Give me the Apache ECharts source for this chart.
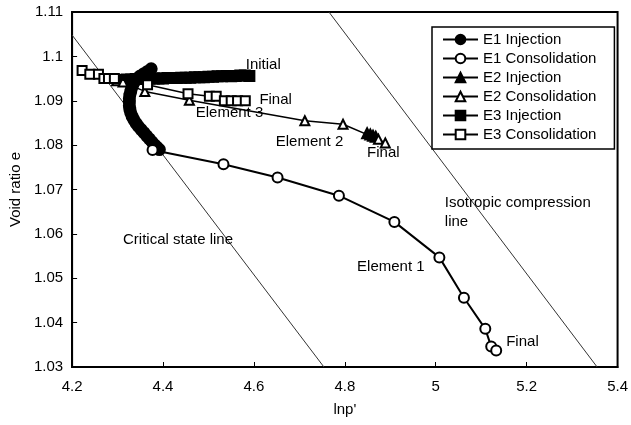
<!DOCTYPE html>
<html><head><meta charset="utf-8">
<script src="https://cdn.jsdelivr.net/npm/echarts@6/dist/echarts.min.js"></script>
<style>html,body{margin:0;padding:0;background:#fff}#c{width:631px;height:425px}</style>
</head><body><div id="c"></div>
<script>
// ---- data ----
const xTickLabels = ['4.2','4.4','4.6','4.8','5','5.2','5.4'];
const yTickLabels = ['1.03','1.04','1.05','1.06','1.07','1.08','1.09','1.1','1.11'];

const e1Injection = [
  [4.374,1.0972],[4.366,1.0966],[4.358,1.0961],[4.350,1.0956],[4.343,1.0950],[4.338,1.0944],
  [4.334,1.0937],[4.331,1.0929],[4.329,1.0921],[4.327,1.0913],[4.326,1.0905],[4.326,1.0897],
  [4.326,1.0889],[4.327,1.0881],[4.329,1.0873],[4.332,1.0865],[4.336,1.0857],[4.341,1.0849],
  [4.346,1.0842],[4.352,1.0835],[4.358,1.0828],[4.364,1.0821],[4.370,1.0814],[4.376,1.0807],
  [4.382,1.0800],[4.387,1.0795],[4.392,1.0790]
];
const e1Consolidation = [
  [4.377,1.0789],[4.533,1.0757],[4.652,1.0727],[4.787,1.0686],[4.909,1.0627],
  [5.008,1.0547],[5.062,1.0456],[5.109,1.0386],[5.122,1.0346],[5.133,1.0337]
];
const e2Injection = [
  [4.849,1.0827],[4.856,1.0824],[4.862,1.0821],[4.868,1.0819]
];
const e2Consolidation = [
  [4.298,1.0945],[4.312,1.0942],[4.360,1.0921],[4.458,1.0901],[4.712,1.0855],
  [4.796,1.0847],[4.874,1.0813],[4.889,1.0805]
];
const e3Injection = [
  [4.590,1.0956],[4.580,1.0957],[4.570,1.0957],[4.560,1.0956],[4.550,1.0955],[4.540,1.0956],
  [4.530,1.0955],[4.520,1.0955],[4.510,1.0954],[4.500,1.0954],[4.490,1.0953],[4.480,1.0953],
  [4.470,1.0953],[4.460,1.0952],[4.450,1.0952],[4.440,1.0952],[4.430,1.0951],[4.420,1.0951],
  [4.410,1.0951],[4.400,1.0950],[4.390,1.0950],[4.380,1.0950],[4.370,1.0950],[4.360,1.0949],
  [4.350,1.0949],[4.340,1.0949],[4.330,1.0948],[4.320,1.0948],[4.310,1.0947]
];
const e3Consolidation = [
  [4.222,1.0968],[4.239,1.0960],[4.258,1.0960],[4.270,1.0950],[4.280,1.0950],[4.293,1.0950],
  [4.366,1.0936],[4.455,1.0916],[4.502,1.0910],[4.517,1.0910],[4.535,1.0900],[4.550,1.0900],
  [4.564,1.0900],[4.581,1.0900]
];
const criticalStateLine = [[4.2,1.1048],[4.754,1.03]];
const isotropicLine = [[4.765,1.11],[5.355,1.03]];
const annotations = [
  [4.582,1.0980,'Initial'],
  [4.612,1.0902,'Final'],
  [4.472,1.0872,'Element 3'],
  [4.648,1.0808,'Element 2'],
  [4.849,1.0782,'Final'],
  [4.827,1.0526,'Element 1'],
  [5.155,1.0357,'Final'],
  [5.020,1.0669,'Isotropic compression'],
  [5.020,1.0627,'line'],
  [4.312,1.0586,'Critical state line']
];

// ---- chart ----
const FONT = '"Liberation Sans", Arial, sans-serif';
const FS = 15;
const chart = echarts.init(document.getElementById('c'));
function ser(name, data, symbol, size, filled, z, lw) {
  return {
    name, type: 'line', data, symbol, symbolSize: size, z,
    showSymbol: true, animation: false,
    lineStyle: { color: '#000', width: lw },
    itemStyle: { color: filled ? '#000' : '#fff', borderColor: '#000', borderWidth: 2 }
  };
}
chart.setOption({
  animation: false,
  grid: { left: 72, right: 11, top: 12, bottom: 58, show: true, borderColor: '#000', borderWidth: 2 },
  textStyle: { fontFamily: FONT },
  xAxis: {
    type: 'value', min: 4.2, max: 5.4, interval: 0.2,
    name: "lnp'", nameLocation: 'middle', nameGap: 35,
    nameTextStyle: { fontSize: FS, color: '#000', fontFamily: FONT },
    axisLine: { lineStyle: { color: '#000', width: 2 } },
    axisTick: { inside: true, length: 5, lineStyle: { color: '#000' } },
    axisLabel: { fontSize: FS, color: '#000', margin: 12, fontFamily: FONT,
      formatter: v => xTickLabels[Math.round((v - 4.2) / 0.2)] },
    splitLine: { show: false }
  },
  yAxis: {
    type: 'value', min: 1.03, max: 1.11, interval: 0.01,
    name: 'Void ratio e', nameLocation: 'middle', nameGap: 45, nameRotate: 90,
    nameTextStyle: { fontSize: FS, color: '#000', fontFamily: FONT },
    axisLine: { lineStyle: { color: '#000', width: 2 } },
    axisTick: { inside: true, length: 5, lineStyle: { color: '#000' } },
    axisLabel: { fontSize: FS, color: '#000', margin: 9, fontFamily: FONT,
      formatter: v => yTickLabels[Math.round((v - 1.03) / 0.01)] },
    splitLine: { show: false }
  },
  legend: {
    orient: 'vertical', left: 432, top: 27,
    data: ['E1 Injection','E1 Consolidation','E2 Injection','E2 Consolidation','E3 Injection','E3 Consolidation'],
    itemWidth: 35, itemHeight: 12, itemGap: 2,
    padding: [4, 18, 6, 10],
    borderColor: '#000', borderWidth: 1.5, backgroundColor: '#fff',
    textStyle: { fontSize: FS, color: '#000', fontFamily: FONT, lineHeight: 17 }
  },
  series: [
    { type: 'line', data: criticalStateLine, symbol: 'none', silent: true, z: 1,
      lineStyle: { color: '#333', width: 1 } },
    { type: 'line', data: isotropicLine, symbol: 'none', silent: true, z: 1,
      lineStyle: { color: '#333', width: 1 } },
    ser('E1 Injection', e1Injection, 'circle', 11, true, 3, 3),
    ser('E1 Consolidation', e1Consolidation, 'circle', 10, false, 4, 2),
    ser('E2 Injection', e2Injection, 'triangle', 10, true, 3, 2),
    ser('E2 Consolidation', e2Consolidation, 'triangle', 9, false, 4, 1.5),
    ser('E3 Injection', e3Injection, 'rect', 10, true, 3, 3),
    ser('E3 Consolidation', e3Consolidation, 'rect', 9, false, 5, 1.5),
    { type: 'scatter', data: annotations, symbol: 'rect', symbolSize: 0, silent: true, z: 6,
      itemStyle: { color: '#000', opacity: 1 },
      label: { show: true, position: 'right', distance: 0, color: '#000', fontSize: FS,
        fontFamily: FONT, formatter: p => p.value[2] } }
  ]
});
</script></body></html>
